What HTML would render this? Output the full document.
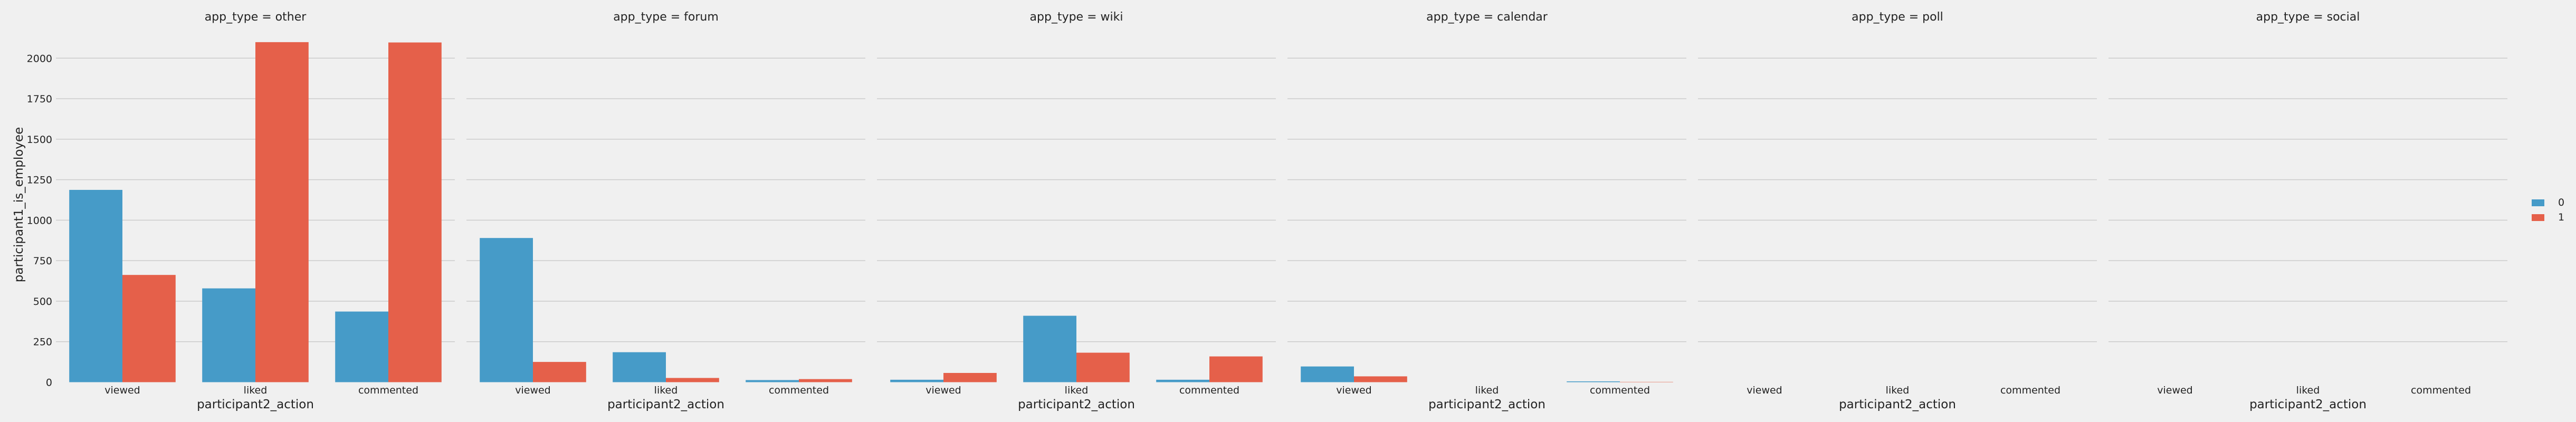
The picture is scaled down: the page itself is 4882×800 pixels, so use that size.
<!DOCTYPE html>
<html><head><meta charset="utf-8"><style>
html,body{margin:0;padding:0;background:#f0f0f0;}
svg{display:block;font-family:"DejaVu Sans","Liberation Sans",sans-serif;}
</style></head><body>
<svg id="chart" width="4882" height="800" viewBox="0 0 4882 800">
<rect width="4882" height="800" fill="#f0f0f0"/>
</svg>
<script>
const panels = ["other","forum","wiki","calendar","poll","social"];
const categories = ["viewed","liked","commented"];
const hues = ["0","1"];
const series0 = [[1187,579,436],[890,185,13],[15,410,15],[97,0,5],[0,0,0],[0,0,0]];
const series1 = [[662,2099,2097],[125,26,19],[57,182,159],[36,0,2],[0,0,0],[0,0,0]];
const yTicks = [0,250,500,750,1000,1250,1500,1750,2000];

const NS="http://www.w3.org/2000/svg";
const svg=document.getElementById('chart');
const colors=["#469bc8","#e5604a"];
const baseY=724.5, pxPerUnit=0.3071;
const panelX0=106, panelStride=778, panelW=756;
function y(v){return baseY - v*pxPerUnit;}
function mk(tag,attrs,parent){const e=document.createElementNS(NS,tag);for(const k in attrs)e.setAttribute(k,attrs[k]);(parent||svg).appendChild(e);return e;}

panels.forEach((p,pi)=>{
  const x0=panelX0+pi*panelStride;
  const g=mk('g',{});
  
  
  yTicks.forEach(t=>{
    if(t>0){
      const l=mk('line',{x1:x0,x2:x0+panelW,y1:y(t),y2:y(t),stroke:'#cbcbcb','stroke-width':1.5},g);
      
      
    }
    if(pi===0){
      const tx=mk('text',{x:99,y:y(t)+7,'text-anchor':'end','font-size':19,fill:'#222'},g);
      tx.textContent=t;
      
      
    }
  });
  const ti=mk('text',{x:x0+panelW/2,y:39,'text-anchor':'middle','font-size':22,fill:'#222'},g);
  ti.textContent='app_type = '+p;
  
  
  const catW=panelW/categories.length, barW=catW*0.4;
  categories.forEach((c,ci)=>{
    const cx=x0+catW*(ci+0.5);
    [series0[pi][ci],series1[pi][ci]].forEach((v,hi)=>{
      const bx=cx-barW+hi*barW;
      const r=mk('rect',{x:bx,y:y(v),width:barW,height:Math.max(0,baseY-y(v)),fill:colors[hi]},g);
      
      
    });
    const xl=mk('text',{x:cx,y:746,'text-anchor':'middle','font-size':19,fill:'#222'},g);
    xl.textContent=c;
    
    
  });
  const xa=mk('text',{x:x0+panelW/2,y:774,'text-anchor':'middle','font-size':23,fill:'#222'},g);
  xa.textContent='participant2_action';
  
  
});
const yl=mk('text',{x:0,y:0,'text-anchor':'middle','font-size':23,fill:'#222',transform:'translate(43,388) rotate(-90)'});
yl.textContent='participant1_is_employee';


hues.forEach((h,hi)=>{
  const ly=378+hi*28;
  const r=mk('rect',{x:4798,y:ly,width:24,height:13,fill:colors[hi]});
  
  
  const t=mk('text',{x:4848,y:ly+12,'font-size':19,fill:'#222'});
  t.textContent=h;
  
  
});
</script>
</body></html>
